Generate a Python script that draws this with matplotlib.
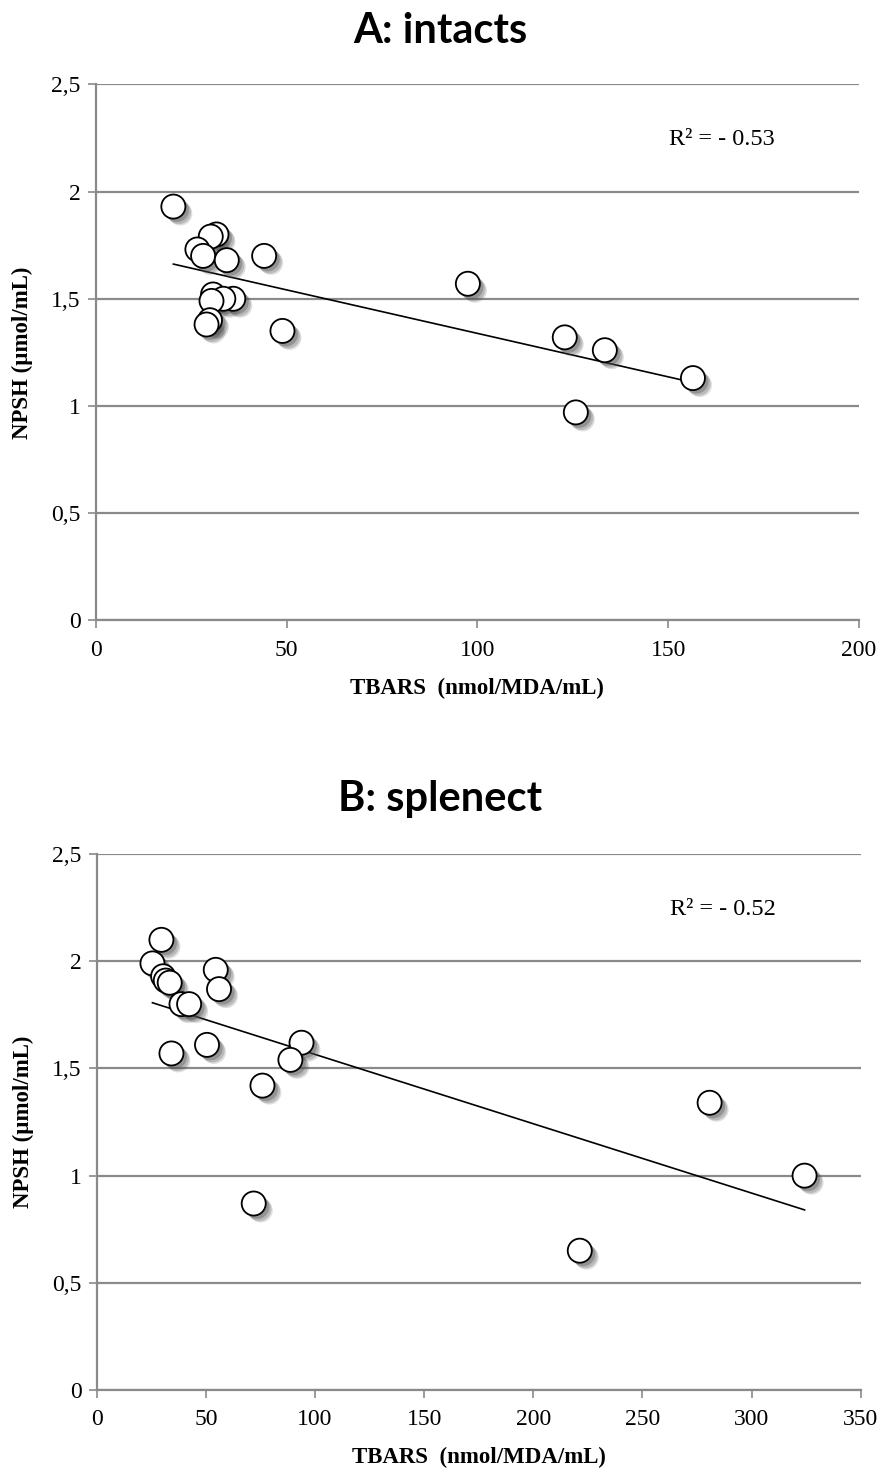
import matplotlib
matplotlib.use("Agg")
import matplotlib.pyplot as plt
import matplotlib.patheffects as pe
import numpy as np

# panel A: intact animals
intact_tbars = [20.3, 31.6, 30.1, 26.6, 28.1, 34.3, 44.1, 30.7, 36.0, 33.4,
                30.3, 29.9, 29.0, 48.9, 97.5, 122.9, 133.4, 156.5, 125.8]
intact_npsh = [1.93, 1.80, 1.79, 1.73, 1.70, 1.68, 1.70, 1.52, 1.50, 1.50,
               1.49, 1.40, 1.38, 1.35, 1.57, 1.32, 1.26, 1.13, 0.97]

# panel B: splenectomised animals
splen_tbars = [29.6, 25.5, 30.4, 31.6, 33.4, 54.5, 56.0, 38.8, 42.3, 34.2,
               50.5, 93.8, 88.7, 75.9, 280.8, 324.3, 71.9, 221.3]
splen_npsh = [2.10, 1.99, 1.93, 1.91, 1.90, 1.96, 1.87, 1.80, 1.80, 1.57,
              1.61, 1.62, 1.54, 1.42, 1.34, 1.00, 0.87, 0.65]

y_ticks = [0, 0.5, 1, 1.5, 2, 2.5]
y_labels = ["0", "0,5", "1", "1,5", "2", "2,5"]

serif = ["Liberation Serif", "DejaVu Serif"]
grey = "#8a8a8a"


def panel(ax, x, y, xmax, xstep, r2_text):
    ax.set_xlim(0, xmax)
    ax.set_ylim(0, 2.5)
    ax.set_xticks(np.arange(0, xmax + 1, xstep))
    ax.set_yticks(y_ticks)
    ax.set_yticklabels(y_labels)
    ax.grid(axis="y", color=grey, linewidth=1.6)
    ax.set_axisbelow(True)
    for side in ["top", "right"]:
        ax.spines[side].set_visible(False)
    for side in ["left", "bottom"]:
        ax.spines[side].set_color(grey)
        ax.spines[side].set_linewidth(1.6)
    ax.tick_params(colors=grey, length=6, width=1.2, labelcolor="black", pad=5)
    ax.tick_params(axis="x", pad=8)
    for lab in ax.get_xticklabels() + ax.get_yticklabels():
        lab.set_family(serif)
        lab.set_fontsize(17)

    # linear trendline over the data range
    k, b = np.polyfit(x, y, 1)
    xs = np.array([min(x), max(x)])
    ax.plot(xs, k * xs + b, color="black", linewidth=1.2, zorder=2)

    sc = ax.scatter(x, y, s=300, facecolor="white", edgecolor="black",
                    linewidth=1.3, zorder=3)
    sc.set_path_effects([
        pe.SimplePatchShadow(offset=(5, -5), shadow_rgbFace="0.3", alpha=0.18),
        pe.SimplePatchShadow(offset=(4, -4), shadow_rgbFace="0.3", alpha=0.25),
        pe.SimplePatchShadow(offset=(2.5, -2.5), shadow_rgbFace="0.3", alpha=0.35),
        pe.Normal()])

    ax.set_xlabel("TBARS  (nmol/MDA/mL)", family=serif, fontweight="bold",
                  fontsize=16.5, labelpad=12)
    ax.set_ylabel("NPSH (\u00b5mol/mL)", family=serif, fontweight="bold",
                  fontsize=16.5, labelpad=13)
    ax.text(0.82, 0.897, r2_text, transform=ax.transAxes, family=serif,
            fontsize=17.5, ha="center", va="center")


fig = plt.figure(figsize=(8.8, 14.7), dpi=100)
ax1 = fig.add_axes([0.109, 0.578, 0.867, 0.3646])
ax2 = fig.add_axes([0.110, 0.0544, 0.868, 0.3646])

panel(ax1, intact_tbars, intact_npsh, 200, 50, "R\u00b2 = - 0.53")
panel(ax2, splen_tbars, splen_npsh, 350, 50, "R\u00b2 = - 0.52")

title_font = dict(family=["Lato", "DejaVu Sans"], fontweight="bold",
                  fontsize=30, ha="center", va="center")
fig.text(0.5, 1 - 31 / 1470, "A: intacts", **title_font)
fig.text(0.5, 1 - 799 / 1470, "B: splenect", **title_font)

fig.savefig("out.png", dpi=100)
